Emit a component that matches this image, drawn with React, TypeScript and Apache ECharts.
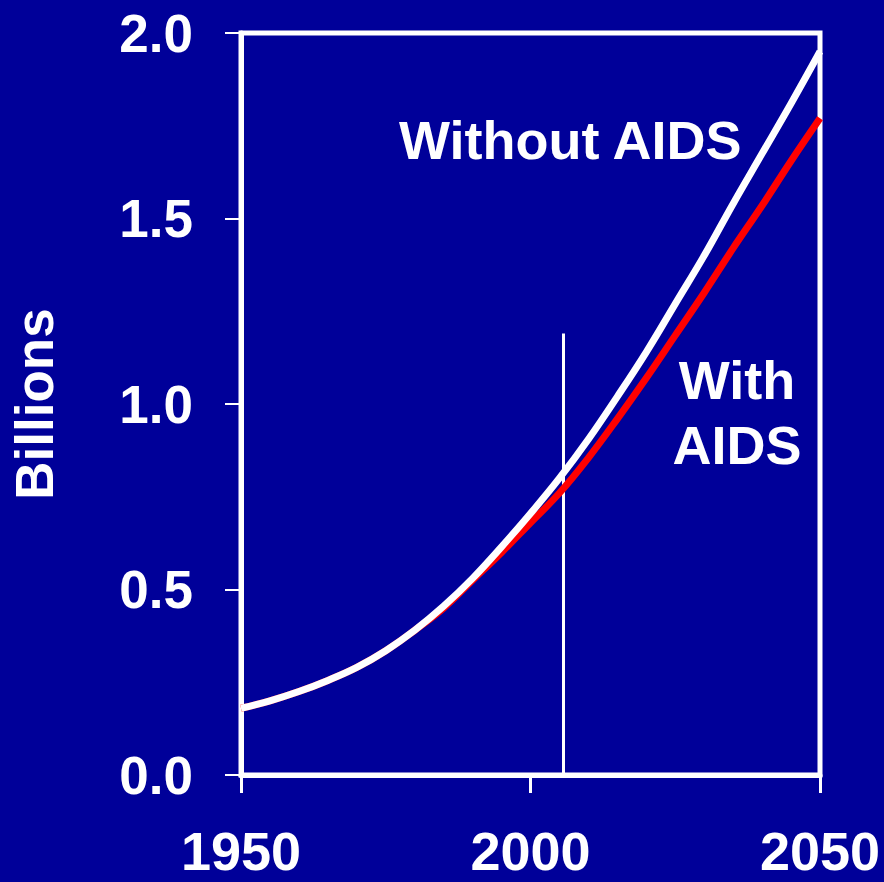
import React, { useEffect, useRef } from "react";
import * as echarts from "echarts";

const years = [1950, 1955, 1960, 1965, 1970, 1975, 1980, 1985, 1990, 1995, 2000, 2005, 2010, 2015, 2020, 2025, 2030, 2035, 2040, 2045, 2050];
const withoutAids = [0.18, 0.2, 0.225, 0.255, 0.29, 0.335, 0.39, 0.455, 0.53, 0.615, 0.705, 0.8, 0.905, 1.02, 1.14, 1.27, 1.4, 1.54, 1.675, 1.81, 1.95];
const withAids = [0.18, 0.2, 0.225, 0.255, 0.29, 0.335, 0.39, 0.45, 0.525, 0.6, 0.68, 0.76, 0.855, 0.96, 1.07, 1.185, 1.3, 1.42, 1.535, 1.655, 1.77];
const markerYear = 2005.7;
const markerTop = 1.19;
const yTicks = { min: 0, max: 2, interval: 0.5 };
const xTicks = { min: 1950, max: 2050, interval: 50 };

const BG = "#000099";
const FONT = "'Liberation Sans', Arial, sans-serif";

export default function App() {
  const ref = useRef<HTMLDivElement>(null);
  useEffect(() => {
    if (!ref.current) return;
    const chart = echarts.init(ref.current, null, { renderer: "svg" });
    chart.setOption({
      animation: false,
      backgroundColor: BG,
      grid: {
        left: 240,
        top: 33,
        right: 64,
        bottom: 107,
        show: true,
        borderColor: "#ffffff",
        borderWidth: 5,
        backgroundColor: "transparent",
      },
      xAxis: {
        type: "value",
        min: xTicks.min,
        max: xTicks.max,
        interval: xTicks.interval,
        axisLine: { show: true, lineStyle: { color: "#ffffff", width: 5 } },
        axisTick: { show: true, length: 18, lineStyle: { color: "#ffffff", width: 3 } },
        splitLine: { show: false },
        axisLabel: {
          color: "#ffffff",
          fontFamily: FONT,
          fontWeight: "bold",
          fontSize: 54,
          lineHeight: 46,
          margin: 53,
          formatter: (v: number) => String(v),
        },
      },
      yAxis: {
        type: "value",
        min: yTicks.min,
        max: yTicks.max,
        interval: yTicks.interval,
        name: "Billions",
        nameLocation: "middle",
        nameRotate: 90,
        nameGap: 180,
        nameTextStyle: { color: "#ffffff", fontFamily: FONT, fontWeight: "bold", fontSize: 53 },
        axisLine: { show: true, lineStyle: { color: "#ffffff", width: 5 } },
        axisTick: { show: true, length: 16, lineStyle: { color: "#ffffff", width: 2 } },
        splitLine: { show: false },
        axisLabel: {
          color: "#ffffff",
          fontFamily: FONT,
          fontWeight: "bold",
          fontSize: 53,
          margin: 48,
          formatter: (v: number) => v.toFixed(1),
        },
      },
      series: [
        {
          name: "With AIDS",
          type: "line",
          data: years.map((y, i) => [y, withAids[i]]),
          showSymbol: false,
          smooth: 0.4,
          lineStyle: { color: "#ff0000", width: 7 },
          z: 2,
        },
        {
          name: "Without AIDS",
          type: "line",
          data: years.map((y, i) => [y, withoutAids[i]]),
          showSymbol: false,
          smooth: 0.4,
          lineStyle: { color: "#ffffff", width: 7 },
          z: 3,
        },
        {
          name: "marker",
          type: "line",
          data: [[markerYear, 0], [markerYear, markerTop]],
          showSymbol: false,
          lineStyle: { color: "#ffffff", width: 3 },
          z: 1,
        },
      ],
      graphic: [
        {
          type: "text",
          left: 399,
          top: 113,
          style: { text: "Without AIDS", fill: "#ffffff", font: `bold 54px ${FONT}` },
        },
        {
          type: "text",
          x: 737,
          y: 380,
          style: { text: "With", fill: "#ffffff", font: `bold 54px ${FONT}`, align: "center", verticalAlign: "middle" },
        },
        {
          type: "text",
          x: 737,
          y: 445,
          style: { text: "AIDS", fill: "#ffffff", font: `bold 54px ${FONT}`, align: "center", verticalAlign: "middle" },
        },
      ],
    });
    return () => chart.dispose();
  }, []);
  return <div ref={ref} style={{ position: "fixed", left: 0, top: 0, width: 884, height: 882 }} />;
}
